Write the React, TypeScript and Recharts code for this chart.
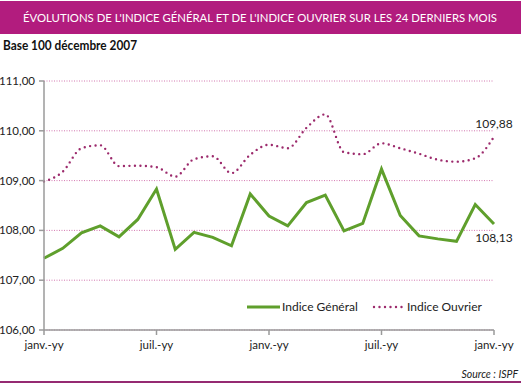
import React from "react";
import {
  LineChart,
  Line,
  XAxis,
  YAxis,
  CartesianGrid,
  LabelList,
} from "recharts";

const monthNames = [
  "janv.-yy", "févr.-yy", "mars-yy", "avr.-yy", "mai-yy", "juin-yy",
  "juil.-yy", "août-yy", "sept.-yy", "oct.-yy", "nov.-yy", "déc.-yy",
  "janv.-yy", "févr.-yy", "mars-yy", "avr.-yy", "mai-yy", "juin-yy",
  "juil.-yy", "août-yy", "sept.-yy", "oct.-yy", "nov.-yy", "déc.-yy",
  "janv.-yy",
];

const indiceGeneral = [
  107.44, 107.64, 107.95, 108.09, 107.87, 108.22, 108.83, 107.62, 107.96,
  107.86, 107.69, 108.73, 108.29, 108.09, 108.56, 108.71, 107.99, 108.14,
  109.23, 108.3, 107.89, 107.83, 107.78, 108.52, 108.13,
];

const indiceOuvrier = [
  108.98, 109.18, 109.65, 109.71, 109.29, 109.3, 109.27, 109.08, 109.43,
  109.49, 109.15, 109.52, 109.72, 109.65, 110.06, 110.33, 109.57, 109.53,
  109.75, 109.65, 109.54, 109.42, 109.38, 109.45, 109.88,
];

const yTicks = [106, 107, 108, 109, 110, 111];

const data = monthNames.map((m, i) => ({
  month: m,
  general: indiceGeneral[i],
  ouvrier: indiceOuvrier[i],
}));

const GREEN = "#5f9f2c";
const PURPLE = "#9c2a6c";
const MAGENTA = "#b21c7e";
const FONT = "Lato, 'Open Sans', sans-serif";

const fmt = (v: number) => v.toFixed(2).replace(".", ",");

const lastLabel = (offset: number) => (props: any) => {
  const { x, y, index, value } = props;
  if (index !== monthNames.length - 1) return null;
  return (
    <text
      x={x}
      y={y + offset}
      textAnchor="middle"
      fontSize={12}
      fontFamily={FONT}
      fill="#222"
    >
      {fmt(value)}
    </text>
  );
};

export default function App() {
  return (
    <div
      style={{
        position: "absolute",
        left: 0,
        top: 0,
        width: 524,
        height: 385,
        background: "#fff",
        fontFamily: FONT,
      }}
    >
      <svg
        width={524}
        height={385}
        style={{ position: "absolute", left: 0, top: 0 }}
      >
        <rect x={0} y={1} width={521} height={33} fill={MAGENTA} />
        <text
          x={260}
          y={22}
          textAnchor="middle"
          fill="#fff"
          fontSize={12}
          fontFamily={FONT}
          textLength={474}
          lengthAdjust="spacingAndGlyphs"
        >
          ÉVOLUTIONS DE L'INDICE GÉNÉRAL ET DE L'INDICE OUVRIER SUR LES 24 DERNIERS MOIS
        </text>
        <text
          x={3}
          y={50}
          fill="#111"
          fontSize={12.5}
          fontWeight="bold"
          fontFamily={FONT}
          textLength={134}
          lengthAdjust="spacingAndGlyphs"
        >
          Base 100 décembre 2007
        </text>
        <text
          x={518}
          y={378}
          textAnchor="end"
          fill="#222"
          fontSize={10.5}
          fontStyle="italic"
          fontFamily={FONT}
        >
          Source : ISPF
        </text>
        <rect x={0} y={381} width={521} height={2} fill="#952a72" />
      </svg>
      <div style={{ position: "absolute", left: 0, top: 0 }}>
        <LineChart
          width={524}
          height={385}
          data={data}
          margin={{ top: 81, right: 30, bottom: 25, left: 0 }}
        >
          <CartesianGrid
            horizontal
            vertical={false}
            stroke="#c8569c"
            strokeDasharray="1 1.5"
            strokeWidth={0.8}
          />
          <XAxis
            dataKey="month"
            interval={5}
            height={30}
            tickSize={5}
            tickMargin={6}
            stroke="#9a9a9a"
            strokeWidth={1.5}
            tick={{ fontSize: 11.5, fill: "#222", fontFamily: FONT }}
          />
          <YAxis
            width={44}
            domain={[106, 111]}
            ticks={yTicks}
            tickSize={5}
            tickMargin={4}
            stroke="#9a9a9a"
            strokeWidth={1.5}
            tickFormatter={fmt}
            tick={{ fontSize: 11.5, fill: "#222", fontFamily: FONT }}
          />
          <Line
            type="linear"
            dataKey="general"
            stroke={GREEN}
            strokeWidth={3}
            dot={false}
            isAnimationActive={false}
          >
            <LabelList dataKey="general" content={lastLabel(18)} />
          </Line>
          <Line
            type="monotone"
            dataKey="ouvrier"
            stroke={PURPLE}
            strokeWidth={2.4}
            strokeDasharray="0 5.5"
            strokeLinecap="round"
            dot={false}
            isAnimationActive={false}
          >
            <LabelList dataKey="ouvrier" content={lastLabel(-9)} />
          </Line>
        </LineChart>
      </div>
      <svg
        width={270}
        height={16}
        style={{ position: "absolute", left: 245, top: 299 }}
      >
        <line x1={2} x2={35} y1={8} y2={8} stroke={GREEN} strokeWidth={3} />
        <text x={37} y={12} fontSize={12} fontFamily={FONT} fill="#222">
          Indice Général
        </text>
        <line
          x1={129}
          x2={157}
          y1={8}
          y2={8}
          stroke={PURPLE}
          strokeWidth={2.4}
          strokeDasharray="0 5.5"
          strokeLinecap="round"
        />
        <text x={162} y={12} fontSize={12} fontFamily={FONT} fill="#222">
          Indice Ouvrier
        </text>
      </svg>
    </div>
  );
}
